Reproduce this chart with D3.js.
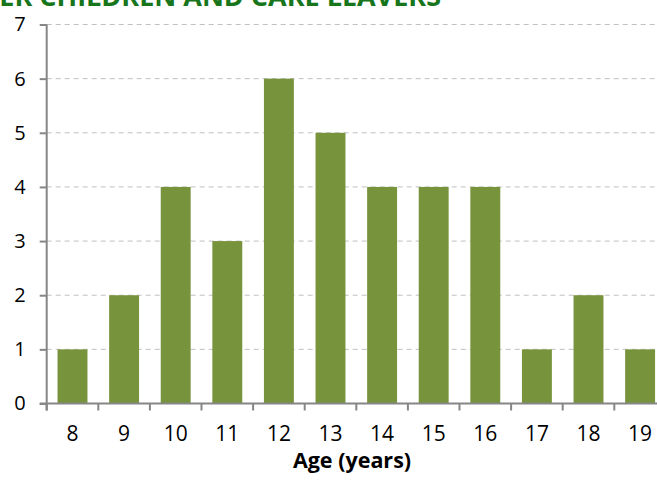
<!DOCTYPE html>
<html>
<head>
<meta charset="utf-8">
<title>Age (years)</title>
<style>
  body { margin: 0; background: #fff; }
  svg { display: block; }
  text { font-family: 'Open Sans', sans-serif; }
  .grid line { stroke: #c0c0c0; stroke-dasharray: 5,4; }
  .axis path, .axis line { stroke: #868686; stroke-width: 2px; }
</style>
</head>
<body>
<div id="chart"></div>
<script src="https://d3js.org/d3.v7.min.js"></script>
<script>

var ages   = ["8", "9", "10", "11", "12", "13", "14", "15", "16", "17", "18", "19"],
    counts = [1, 2, 4, 3, 6, 5, 4, 4, 4, 1, 2, 1],
    yTicks = [0, 1, 2, 3, 4, 5, 6, 7];

var width     = 657,
    height    = 485,
    plotLeft  = 46.7,
    plotRight = 665.9, // plot runs a bit past the window edge
    plotTop   = 24.5,
    plotBot   = 403.5;

var svg = d3.select("#chart").append("svg")
    .attr("width", width)
    .attr("height", height);

var x = d3.scaleBand()
    .domain(ages)
    .range([plotLeft, plotRight])
    .paddingInner(0.42)
    .paddingOuter(0.21);

var y = d3.scaleLinear()
    .domain([0, 7])
    .range([plotBot, plotTop]);

// title, cut off at the top like the source
svg.append("text")
    .attr("x", 441)
    .attr("y", 6)
    .attr("text-anchor", "end")
    .style("font-weight", "bold")
    .style("font-size", "27px")
    .style("fill", "#17761b")
    .text("FOSTER CHILDREN AND CARE LEAVERS");

// dashed gridlines
svg.append("g")
    .attr("class", "grid")
    .selectAll("line")
    .data(yTicks.filter(function(d){ return d > 0; }))
    .enter().append("line")
    .attr("x1", plotLeft)
    .attr("x2", width)
    .attr("y1", function(d){ return y(d); })
    .attr("y2", function(d){ return y(d); });

// bars
svg.append("g")
    .selectAll("rect")
    .data(counts)
    .enter().append("rect")
    .attr("x", function(d, i){ return x(ages[i]); })
    .attr("y", function(d){ return y(d); })
    .attr("width", x.bandwidth())
    .attr("height", function(d){ return y(0) - y(d); })
    .attr("fill", "#77933c");

// y axis
var yAxis = svg.append("g")
    .attr("class", "axis")
    .attr("transform", "translate(" + plotLeft + ",0)")
    .call(d3.axisLeft(y).tickValues(yTicks).tickFormat(d3.format("d"))
        .tickSize(7).tickPadding(14).tickSizeOuter(0));
yAxis.select(".domain").attr("d", "M0," + (plotBot + 7) + "V" + plotTop);
yAxis.selectAll("text")
    .style("font-size", "20px")
    .style("fill", "#000");

// x axis: labels centred on bands, tick marks between categories
var xAxis = svg.append("g")
    .attr("class", "axis")
    .attr("transform", "translate(0," + plotBot + ")")
    .call(d3.axisBottom(x).tickSize(0).tickPadding(23).tickSizeOuter(0));
xAxis.select(".domain").attr("d", "M" + (plotLeft - 7) + ",0H" + plotRight);
xAxis.selectAll("text")
    .style("font-size", "21px")
    .style("fill", "#000");

xAxis.selectAll(".sep")
    .data(ages)
    .enter().append("line")
    .attr("class", "sep")
    .attr("x1", function(d){ return x(d) - x.step() * x.paddingOuter(); })
    .attr("x2", function(d){ return x(d) - x.step() * x.paddingOuter(); })
    .attr("y1", 0)
    .attr("y2", 7);

// axis title
svg.append("text")
    .attr("x", 352)
    .attr("y", 468)
    .attr("text-anchor", "middle")
    .style("font-weight", "bold")
    .style("font-size", "21.5px")
    .text("Age (years)");

</script>
</body>
</html>
